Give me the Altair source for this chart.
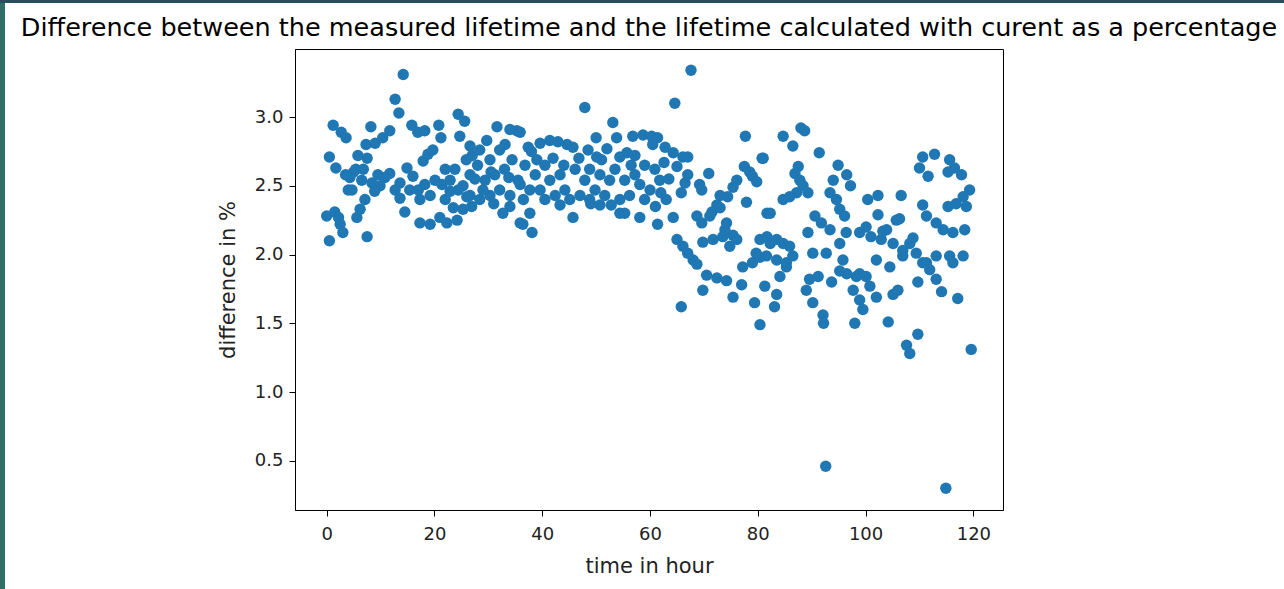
import altair as alt
import pandas as pd

# time in hour (x) and difference in % (y)
hours_a = [0.0, 0.5, 0.5, 1.2, 1.7, 2.7, 3.6, 1.5, 2.5, 3.0, 4.0, 4.3, 5.0, 5.8, 7.5, 8.2, 6.2, 5.6, 7.1, 7.5,
           7.3, 9.0, 10.4, 11.7, 6.5, 8.4, 9.5, 9.9, 5.4, 4.7, 3.5, 6.8, 8.9, 2.2]
diff_a = [2.28, 2.10, 2.71, 2.94, 2.63, 2.89, 2.85, 2.31, 2.22, 2.16, 2.47, 2.56, 2.60, 2.72, 2.70, 2.93, 2.33, 2.27, 2.40, 2.13,
          2.80, 2.81, 2.85, 2.90, 2.54, 2.52, 2.58, 2.50, 2.62, 2.47, 2.58, 2.62, 2.46, 2.27]

hours_b = [12.7, 13.4, 14.2, 11.7, 13.6, 14.9, 16.0, 14.5, 15.8, 16.9, 18.2, 17.9, 18.8, 19.7, 20.8, 21.2, 17.3, 19.2, 21.0, 22.3,
           24.2, 12.7, 10.8, 15.4, 17.3, 18.2, 19.2, 20.1, 17.0, 13.6]
diff_b = [3.13, 3.03, 3.31, 2.59, 2.52, 2.63, 2.57, 2.31, 2.94, 2.89, 2.90, 2.68, 2.73, 2.76, 2.94, 2.85, 2.23, 2.22, 2.27, 2.23,
          2.25, 2.47, 2.56, 2.47, 2.40, 2.51, 2.43, 2.54, 2.47, 2.41]

hours_c = [24.4, 25.6, 24.7, 26.6, 29.7, 31.6, 34.0, 35.3, 32.7, 34.0, 35.9, 37.7, 38.1, 35.9, 22.0, 22.9, 23.8, 25.3, 26.6, 28.0,
           29.4, 30.3, 31.2, 32.1, 33.0, 34.4, 35.5, 36.8, 37.7, 38.7, 26.6, 28.4, 30.3, 24.4, 22.0, 21.4, 34.0, 35.9, 37.4, 32.1,
           28.4, 25.9, 33.1, 26.9, 25.3, 26.0, 22.9, 27.5, 29.0, 31.0, 33.8, 36.5, 30.5, 27.0, 23.5]
diff_c = [3.02, 2.97, 2.86, 2.79, 2.83, 2.93, 2.91, 2.90, 2.30, 2.35, 2.23, 2.30, 2.16, 2.89, 2.40, 2.54, 2.62, 2.50, 2.58, 2.65,
          2.54, 2.69, 2.58, 2.47, 2.62, 2.69, 2.54, 2.65, 2.47, 2.58, 2.43, 2.40, 2.43, 2.47, 2.62, 2.51, 2.43, 2.51, 2.78, 2.76,
          2.76, 2.69, 2.80, 2.35, 2.33, 2.42, 2.46, 2.55, 2.47, 2.37, 2.56, 2.40, 2.60, 2.72, 2.34]

hours_d = [39.6, 41.4, 42.9, 44.6, 45.7, 38.0, 39.0, 47.9, 50.0, 48.5, 50.1, 51.0, 53.1, 53.8, 54.4, 55.7, 57.2, 56.8, 58.7, 60.3,
           61.4, 60.5, 45.7, 36.4, 54.4, 55.3, 58.1, 61.4, 64.3, 40.5, 41.4, 42.4, 43.3, 44.2, 45.1, 47.0, 47.9, 48.8, 49.8, 50.7,
           51.6, 52.5, 53.5, 55.3, 56.2, 57.2, 58.1, 59.0, 60.0, 60.9, 61.8, 46.1, 48.8, 54.4, 40.5, 39.6, 43.3, 50.7, 59.0, 62.6,
           65.0, 42.0, 46.8, 52.0, 49.0, 56.5, 44.0, 52.8]
diff_d = [2.81, 2.83, 2.82, 2.80, 2.78, 2.75, 2.69, 3.07, 2.85, 2.76, 2.71, 2.69, 2.96, 2.85, 2.71, 2.74, 2.72, 2.86, 2.87, 2.86,
          2.85, 2.80, 2.27, 2.22, 2.30, 2.30, 2.27, 2.22, 2.27, 2.65, 2.54, 2.43, 2.58, 2.47, 2.40, 2.43, 2.54, 2.40, 2.47, 2.58,
          2.43, 2.54, 2.62, 2.54, 2.43, 2.58, 2.51, 2.40, 2.47, 2.62, 2.54, 2.62, 2.62, 2.40, 2.40, 2.47, 2.36, 2.36, 2.65, 2.67,
          2.64, 2.70, 2.70, 2.77, 2.37, 2.65, 2.65, 2.36]

hours_e = [62.8, 64.3, 66.1, 67.0, 64.6, 67.6, 67.0, 69.2, 69.6, 70.9, 77.7, 77.5, 78.5, 79.0, 79.8, 80.8, 76.1, 75.4, 74.4, 73.0,
           72.4, 71.5, 77.9, 81.7, 68.7, 69.6, 71.1, 65.0, 66.1, 67.0, 68.0, 68.7, 69.8, 71.7, 73.5, 74.8, 75.4, 76.1, 80.4, 81.7,
           77.2, 79.0, 80.4, 70.5, 72.4, 74.2, 69.8, 65.8, 75.4, 77.0, 79.4, 80.4, 81.3, 73.0, 74.2, 73.9, 62.0, 63.5, 61.0, 63.0,
           65.8, 66.5]
diff_e = [2.78, 2.74, 2.71, 2.71, 3.10, 3.34, 2.58, 2.51, 2.47, 2.59, 2.86, 2.64, 2.60, 2.57, 2.53, 2.70, 2.54, 2.49, 2.42, 2.43,
          2.36, 2.31, 2.38, 2.30, 2.28, 2.23, 2.28, 2.11, 2.06, 2.01, 1.96, 1.93, 2.09, 2.11, 2.13, 2.06, 2.14, 2.11, 2.11, 2.13,
          1.91, 1.94, 1.98, 1.85, 1.83, 1.81, 1.74, 1.62, 1.69, 1.78, 1.65, 1.49, 1.77, 2.34, 2.23, 2.18, 2.45, 2.55, 2.35, 2.40,
          2.45, 2.52]

hours_f = [84.7, 86.5, 88.0, 88.7, 91.4, 81.0, 87.5, 86.9, 87.8, 88.4, 89.3, 87.2, 85.9, 84.7, 82.3, 94.9, 94.0, 93.4, 96.5, 97.2,
           94.6, 95.2, 96.1, 90.6, 91.8, 93.4, 89.3, 96.4, 95.2, 82.3, 83.5, 84.7, 85.9, 79.7, 81.6, 83.5, 85.3, 86.5, 90.2, 92.7,
           96.5, 98.9, 85.3, 84.1, 83.5, 83.1, 95.8, 89.0, 89.6, 91.2, 90.2, 93.7, 95.2, 92.1, 92.2, 98.0, 97.7, 98.9, 99.5, 98.3,
           92.6]
diff_f = [2.86, 2.79, 2.92, 2.90, 2.74, 2.70, 2.64, 2.59, 2.54, 2.50, 2.45, 2.45, 2.42, 2.40, 2.30, 2.65, 2.54, 2.45, 2.58, 2.50,
          2.40, 2.33, 2.28, 2.28, 2.23, 2.18, 2.16, 2.16, 2.08, 2.08, 2.11, 2.08, 2.06, 2.01, 1.99, 1.96, 1.94, 1.99, 2.01, 2.01,
          1.86, 1.86, 1.91, 1.84, 1.71, 1.62, 1.96, 1.74, 1.82, 1.84, 1.65, 1.80, 1.88, 1.56, 1.50, 1.50, 1.74, 1.67, 1.60, 1.84,
          0.46]

hours_g = [100.4, 102.3, 102.3, 100.1, 98.9, 101.0, 106.6, 106.3, 103.9, 102.9, 105.1, 110.6, 112.8, 110.0, 111.6, 115.6, 116.5,
           117.8, 115.3, 110.6, 111.3, 113.1, 119.3, 118.1, 116.8, 115.3, 118.7, 114.4, 116.2, 118.4, 102.0, 104.5, 106.9, 109.4,
           110.6, 113.1, 115.6, 118.1, 100.8, 102.0, 100.1, 108.2, 108.8, 103.2, 105.7, 104.2, 105.1, 106.0, 107.6, 108.2, 109.7,
           109.7, 111.3, 113.1, 114.1, 111.9, 116.2, 117.1, 119.6, 106.9, 114.9]
diff_g = [2.40, 2.43, 2.29, 2.20, 2.16, 2.13, 2.43, 2.26, 2.18, 2.11, 2.08, 2.71, 2.73, 2.63, 2.57, 2.69, 2.63,
          2.58, 2.60, 2.36, 2.28, 2.23, 2.47, 2.42, 2.37, 2.35, 2.35, 2.18, 2.16, 2.18, 1.96, 1.91, 1.99, 2.01,
          1.94, 1.99, 1.99, 1.99, 1.77, 1.69, 1.84, 2.08, 2.12, 2.17, 2.25, 1.51, 1.71, 1.74, 1.34, 1.28, 1.42,
          1.80, 1.94, 1.82, 1.73, 1.89, 1.94, 1.68, 1.31, 2.03, 0.30]

x_ticks = [0, 20, 40, 60, 80, 100, 120]
y_ticks = [0.5, 1.0, 1.5, 2.0, 2.5, 3.0]

hours = hours_a + hours_b + hours_c + hours_d + hours_e + hours_f + hours_g
diff = diff_a + diff_b + diff_c + diff_d + diff_e + diff_f + diff_g
df = pd.DataFrame({"hour": hours, "diff": diff})

FONT = "DejaVu Sans"

points = alt.Chart(df).mark_circle(size=130, opacity=1, color="#1f77b4").encode(
    x=alt.X("hour:Q",
            scale=alt.Scale(domain=[-5.88, 125.5], nice=False, zero=False),
            axis=alt.Axis(title="time in hour", values=x_ticks, format="d",
                          tickSize=6, labelPadding=9, titlePadding=12)),
    y=alt.Y("diff:Q",
            scale=alt.Scale(domain=[0.142, 3.495], nice=False, zero=False),
            axis=alt.Axis(title="difference in %", values=y_ticks, format=".1f",
                          tickSize=6, labelPadding=6, titlePadding=16)),
)

# decorative frame strips of the screenshot (left and top edges)
strip_left = alt.Chart(df).mark_rect(color="#2f6d68", clip=False).encode(
    x=alt.value(-295), x2=alt.value(-290), y=alt.value(-49), y2=alt.value(540)
)
strip_top = alt.Chart(df).mark_rect(color="#25505c", clip=False).encode(
    x=alt.value(-295), x2=alt.value(989), y=alt.value(-49), y2=alt.value(-46)
)

chart = alt.layer(strip_left, strip_top, points).properties(
    width=708,
    height=461,
    title=alt.TitleParams(
        "Difference between the measured lifetime and the lifetime calculated with curent as a percentage",
        font=FONT, fontSize=25.5, fontWeight="normal", color="black", anchor="middle",
        frame="group", baseline="bottom", offset=-66,
    ),
    autosize=alt.AutoSizeParams(type="none"),
    padding={"left": 295, "top": 49, "right": 281, "bottom": 79},
).configure(
    background="white",
).configure_view(
    stroke="black", strokeWidth=1,
).configure_axis(
    grid=False,
    domainColor="black", tickColor="black",
    labelFont=FONT, labelFontSize=18, labelColor="#222222",
    titleFont=FONT, titleFontSize=21, titleFontWeight="normal", titleColor="#222222",
)

chart.save("out.html", embed_options={"renderer": "svg", "actions": False})
